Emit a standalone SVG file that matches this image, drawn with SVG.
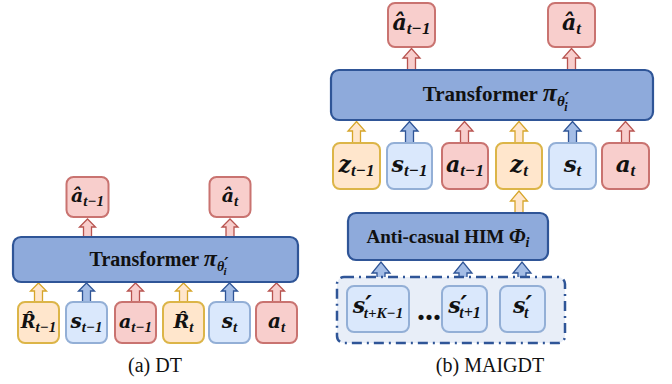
<svg xmlns="http://www.w3.org/2000/svg" width="672" height="384" viewBox="0 0 672 384">
<style>
.red{fill:#f8cecc;stroke:#c97370;stroke-width:2}
.blu{fill:#dae8fc;stroke:#93afd6;stroke-width:2}
.yel{fill:#ffe6cc;stroke:#dcb548;stroke-width:2}
.big{fill:#8eaadb;stroke:#2f5597;stroke-width:2.2}
.grp{fill:#e8eef8;stroke:#2f5597;stroke-width:2.5;stroke-dasharray:10 5 2 5}
.ar{stroke:#b85450;fill:#f8cecc;stroke-width:1.3}
.ab{stroke:#2f5597;fill:#a4bde6;stroke-width:1.3}
.ay{stroke:#d6a52a;fill:#ffe6cc;stroke-width:1.3}
.m{font-family:"DejaVu Serif",serif;font-weight:bold;font-style:italic;fill:#111;text-anchor:middle}
.s{font-family:"Liberation Serif",serif}
.p{font-family:"DejaVu Serif",serif}
.t{font-family:"Liberation Serif",serif;font-weight:bold;fill:#111;text-anchor:middle}
.c{font-family:"Liberation Serif",serif;fill:#111;text-anchor:middle;font-size:20px}
</style>
<g id="connectors">
<path class="ay" d="M34.5,302 V291 H30.5 L38.5,283 L46.5,291 H42.5 V302 Z"/>
<path class="ab" d="M82.5,302 V291 H78.5 L86.5,283 L94.5,291 H90.5 V302 Z"/>
<path class="ar" d="M131.5,302 V291 H127.5 L135.5,283 L143.5,291 H139.5 V302 Z"/>
<path class="ay" d="M179.5,302 V291 H175.5 L183.5,283 L191.5,291 H187.5 V302 Z"/>
<path class="ab" d="M225.5,302 V291 H221.5 L229.5,283 L237.5,291 H233.5 V302 Z"/>
<path class="ar" d="M272.5,302 V291 H268.5 L276.5,283 L284.5,291 H280.5 V302 Z"/>
<path class="ar" d="M83.5,237 V227 H79.5 L87.5,219 L95.5,227 H91.5 V237 Z"/>
<path class="ar" d="M226,237 V227 H222 L230,219 L238,227 H234 V237 Z"/>
<path class="ay" d="M352.5,143 V131 H348 L356.5,121.5 L365,131 H360.5 V143 Z"/>
<path class="ab" d="M405.5,143 V131 H401 L409.5,121.5 L418,131 H413.5 V143 Z"/>
<path class="ar" d="M460.5,143 V131 H456 L464.5,121.5 L473,131 H468.5 V143 Z"/>
<path class="ay" d="M515,143 V131 H510.5 L519,121.5 L527.5,131 H523 V143 Z"/>
<path class="ab" d="M568.5,143 V131 H564 L572.5,121.5 L581,131 H576.5 V143 Z"/>
<path class="ar" d="M621.5,143 V131 H617 L625.5,121.5 L634,131 H629.5 V143 Z"/>
<path class="ar" d="M407.5,70 V58 H403 L411.5,48.5 L420,58 H415.5 V70 Z"/>
<path class="ar" d="M567.5,70 V58 H563 L571.5,48.5 L580,58 H575.5 V70 Z"/>
<path class="ay" d="M515,213 V201 H510.5 L519,191 L527.5,201 H523 V213 Z"/>
<path class="ab" d="M377,286 V273 H372 L381,262 L390,273 H385 V286 Z"/>
<path class="ab" d="M459,286 V273 H454 L463,262 L472,273 H467 V286 Z"/>
<path class="ab" d="M518,286 V273 H513 L522,262 L531,273 H526 V286 Z"/>
</g>
<g id="dt-out1"><rect class="red" x="66.5" y="177" width="42" height="40" rx="7"/><text class="m" x="87.5" y="202" font-size="19">â<tspan class="s" font-size="15" dy="4">t−1</tspan></text></g>
<g id="dt-out2"><rect class="red" x="209.5" y="177" width="41" height="40" rx="7"/><text class="m" x="230" y="202" font-size="19">â<tspan class="s" font-size="15" dy="4">t</tspan></text></g>
<g id="dt-transformer"><rect class="big" x="13" y="237" width="285" height="45" rx="8"/><text class="t" x="159" y="266" font-size="20">Transformer <tspan font-style="italic" font-size="24">π</tspan><tspan font-style="italic" font-size="14" dy="5">θ</tspan><tspan class="p" font-style="italic" font-size="16" dy="-2">′</tspan><tspan font-style="italic" font-size="11" dx="-5" dy="6">i</tspan></text></g>
<g id="dt-R1"><rect class="yel" x="18" y="302" width="41" height="41" rx="7"/><text class="m" x="38.5" y="328" font-size="18">R̂<tspan class="s" font-size="15" dy="4">t−1</tspan></text></g>
<g id="dt-s1"><rect class="blu" x="66" y="302" width="41" height="41" rx="7"/><text class="m" x="86.5" y="328" font-size="20">s<tspan class="s" font-size="15" dy="4">t−1</tspan></text></g>
<g id="dt-a1"><rect class="red" x="115" y="302" width="41" height="41" rx="7"/><text class="m" x="135.5" y="328" font-size="19">a<tspan class="s" font-size="15" dy="4">t−1</tspan></text></g>
<g id="dt-R2"><rect class="yel" x="163" y="302" width="41" height="41" rx="7"/><text class="m" x="183.5" y="328" font-size="19">R̂<tspan class="s" font-size="15" dy="4">t</tspan></text></g>
<g id="dt-s2"><rect class="blu" x="209" y="302" width="41" height="41" rx="7"/><text class="m" x="229.5" y="328" font-size="20">s<tspan class="s" font-size="15" dy="4">t</tspan></text></g>
<g id="dt-a2"><rect class="red" x="256" y="302" width="41" height="41" rx="7"/><text class="m" x="276.5" y="328" font-size="20">a<tspan class="s" font-size="15" dy="4">t</tspan></text></g>
<text class="c" x="155" y="372">(a) DT</text>
<g id="mg-out1"><rect class="red" x="388" y="3" width="47" height="44" rx="7"/><text class="m" x="411.5" y="30" font-size="22">â<tspan class="s" font-size="17" dy="4">t−1</tspan></text></g>
<g id="mg-out2"><rect class="red" x="548" y="3" width="47" height="44" rx="7"/><text class="m" x="571.5" y="30" font-size="22">â<tspan class="s" font-size="17" dy="4">t</tspan></text></g>
<g id="mg-transformer"><rect class="big" x="331" y="70" width="322" height="50" rx="8"/><text class="t" x="496" y="101" font-size="21">Transformer <tspan font-style="italic" font-size="26">π</tspan><tspan font-style="italic" font-size="15" dy="5">θ</tspan><tspan class="p" font-style="italic" font-size="17" dy="-2">′</tspan><tspan font-style="italic" font-size="12" dx="-5" dy="7">i</tspan></text></g>
<g id="mg-z1"><rect class="yel" x="333" y="143" width="47" height="46" rx="7"/><text class="m" x="356.5" y="172" font-size="22">z<tspan class="s" font-size="17" dy="4">t−1</tspan></text></g>
<g id="mg-s1"><rect class="blu" x="387" y="143" width="45" height="46" rx="7"/><text class="m" x="409.5" y="172" font-size="22">s<tspan class="s" font-size="17" dy="4">t−1</tspan></text></g>
<g id="mg-a1"><rect class="red" x="442" y="143" width="46" height="46" rx="7"/><text class="m" x="465" y="172" font-size="22">a<tspan class="s" font-size="17" dy="4">t−1</tspan></text></g>
<g id="mg-z2"><rect class="yel" x="496" y="143" width="46" height="46" rx="7"/><text class="m" x="519" y="172" font-size="23">z<tspan class="s" font-size="17" dy="4">t</tspan></text></g>
<g id="mg-s2"><rect class="blu" x="549" y="143" width="47" height="46" rx="7"/><text class="m" x="572.5" y="172" font-size="23">s<tspan class="s" font-size="17" dy="4">t</tspan></text></g>
<g id="mg-a2"><rect class="red" x="602" y="143" width="47" height="46" rx="7"/><text class="m" x="625.5" y="172" font-size="23">a<tspan class="s" font-size="17" dy="4">t</tspan></text></g>
<g id="mg-him"><rect class="big" x="348" y="213" width="200" height="47" rx="8"/><text class="t" x="448" y="243" font-size="19">Anti-casual HIM <tspan font-style="italic" font-size="21">Φ</tspan><tspan font-style="italic" font-size="14" dy="4">i</tspan></text></g>
<g id="mg-group"><rect class="grp" x="337" y="277" width="228" height="66" rx="7"/></g>
<g id="mg-sk"><rect class="blu" x="347" y="286" width="62" height="46" rx="7"/><text class="m" x="378" y="313" font-size="22">s<tspan font-size="25" dy="0">′</tspan><tspan class="s" font-size="15" dx="-8" dy="5">t+K−1</tspan></text></g>
<text class="t" x="429" y="320" font-size="32">...</text>
<g id="mg-s1p"><rect class="blu" x="442" y="286" width="45" height="46" rx="7"/><text class="m" x="464.5" y="313" font-size="22">s<tspan font-size="25" dy="0">′</tspan><tspan class="s" font-size="16" dx="-8" dy="5">t+1</tspan></text></g>
<g id="mg-s0p"><rect class="blu" x="500" y="286" width="45" height="46" rx="7"/><text class="m" x="522.5" y="313" font-size="22">s<tspan font-size="25" dy="0">′</tspan><tspan class="s" font-size="16" dx="-8" dy="5">t</tspan></text></g>
<text class="c" x="490" y="372">(b) MAIGDT</text>
</svg>
